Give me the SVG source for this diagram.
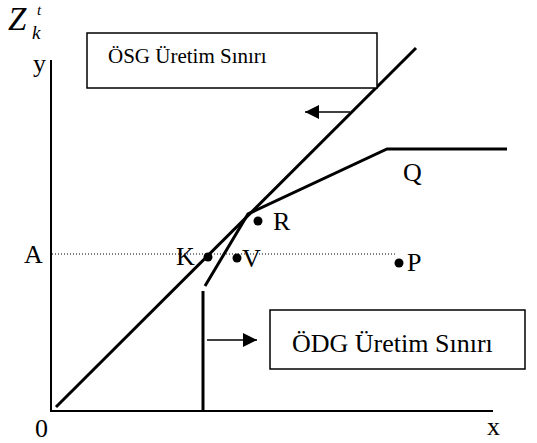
<svg xmlns="http://www.w3.org/2000/svg" width="537" height="443" viewBox="0 0 537 443">
<defs>
<style>
text{fill:#000;font-family:"Liberation Serif","Times New Roman",Times,"DejaVu Serif","Noto Serif",serif}
.ln{stroke:#000;stroke-width:3;fill:none;stroke-linecap:butt}
.ax{stroke:#000;stroke-width:2;fill:none}
.box{stroke:#000;stroke-width:1.5;fill:#fff}
.dot{fill:#000}
.lbl{font-size:26px}
</style>
<marker id="ah" viewBox="0 0 10 10" refX="10" refY="5" markerWidth="14" markerHeight="14" markerUnits="userSpaceOnUse" orient="auto">
<path d="M0,0 L10,5 L0,10 z" fill="#000"/>
</marker>
</defs>
<rect width="537" height="443" fill="#fff"/>
<g id="axes">
<path class="ax" d="M51,60 V411 H493"/>
<text class="lbl" x="33" y="72">y</text>
<text class="lbl" x="35" y="437">0</text>
<text class="lbl" x="487" y="435">x</text>
<text font-style="italic" font-size="33" x="8" y="30">Z</text>
<text font-style="italic" font-size="19" x="32" y="39">k</text>
<text font-style="italic" font-size="15" x="37" y="15">t</text>
</g>
<g id="connectors">
<line x1="52" y1="254" x2="397" y2="254" stroke="#000" stroke-width="1" stroke-dasharray="1,2"/>
<line class="ln" x1="56" y1="407" x2="416" y2="48"/>
<path class="ln" d="M205,286 L248,214 L387,149 H507"/>
<line class="ln" x1="203" y1="291" x2="203" y2="411"/>
<line x1="350" y1="112" x2="305" y2="112" stroke="#000" stroke-width="1.5" marker-end="url(#ah)"/>
<line x1="207" y1="340" x2="257" y2="340" stroke="#000" stroke-width="1.5" marker-end="url(#ah)"/>
</g>
<g id="osg">
<rect class="box" x="87" y="33" width="290" height="55"/>
<text font-size="21" x="108" y="63">ÖSG Üretim Sınırı</text>
</g>
<g id="odg">
<rect class="box" x="270" y="310" width="255" height="59"/>
<text font-size="26" x="292" y="352">ÖDG Üretim Sınırı</text>
</g>
<g id="A"><text class="lbl" x="24" y="263">A</text></g>
<g id="K"><circle class="dot" cx="208" cy="257" r="4.5"/><text class="lbl" x="176" y="265">K</text></g>
<g id="V"><circle class="dot" cx="237" cy="258" r="4.5"/><text class="lbl" x="242" y="267">V</text></g>
<g id="R"><circle class="dot" cx="258" cy="221" r="4.5"/><text class="lbl" x="273" y="230">R</text></g>
<g id="P"><circle class="dot" cx="399" cy="263" r="4.5"/><text class="lbl" x="407" y="271">P</text></g>
<g id="Q"><text class="lbl" x="403" y="181">Q</text></g>
</svg>
